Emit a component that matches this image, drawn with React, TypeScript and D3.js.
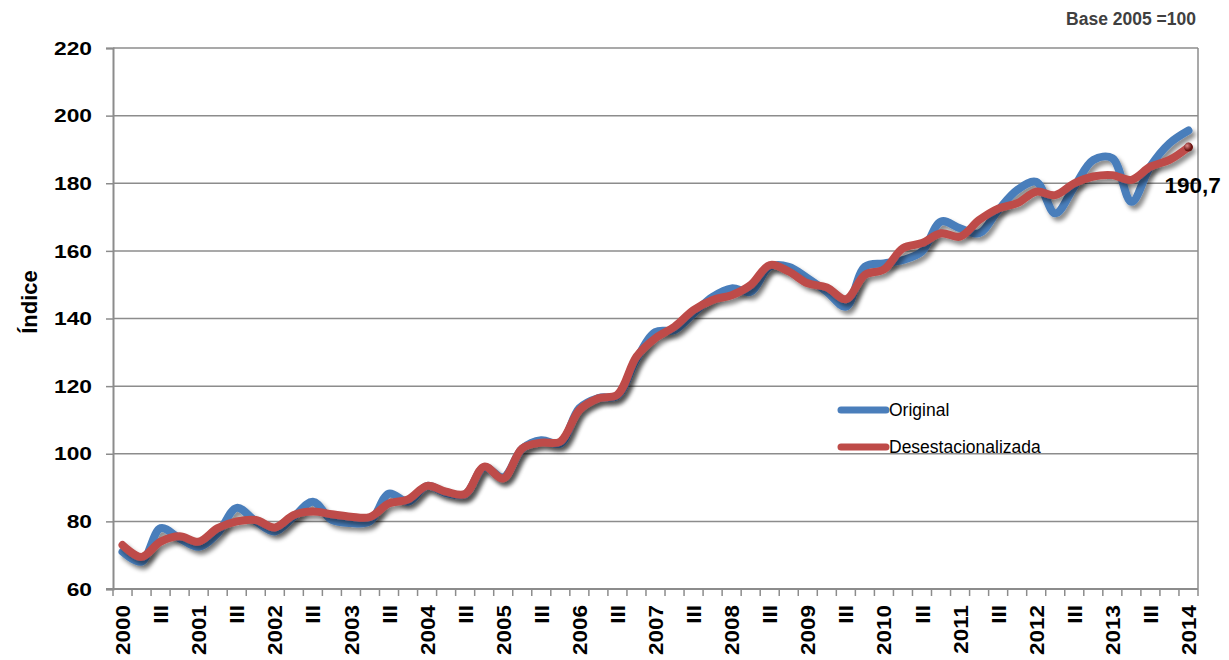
import React, { useEffect, useRef } from 'react';
import * as d3 from 'd3';

const categories = [
    '2000', '', 'III', '', '2001', '', 'III', '', '2002', '', 'III', '', '2003', '', 'III', '',
    '2004', '', 'III', '', '2005', '', 'III', '', '2006', '', 'III', '', '2007', '', 'III', '',
    '2008', '', 'III', '', '2009', '', 'III', '', '2010', '', 'III', '', '2011', '', 'III', '',
    '2012', '', 'III', '', '2013', '', 'III', '', '2014',
];

const original = [
    71, 68.1, 78, 75, 72.5, 76.5, 84, 80, 77, 81.4, 85.8, 80.4, 79.5, 80, 88.2, 85.8,
    90.5, 88.4, 88, 96, 93, 101.5, 104, 103, 113.5, 116.5, 117.2, 128, 136, 136.6, 141.5, 146.4,
    148.9, 147.9, 155.3, 155.3, 151.9, 147.9, 143.5, 155.3, 156.3, 157.3, 159.8, 168.7, 166.7, 165.2, 172, 178,
    180.4, 171.1, 179, 186.9, 187.4, 174.5, 185, 191.8, 195.6,
];

const desestacionalizada = [
    73, 69.5, 74, 75.6, 74, 78, 80, 80.4, 78.2, 81.9, 82.9, 82.1, 81.4, 81.3, 85.3, 86.5,
    90.5, 88.8, 88.1, 96.2, 92.7, 101.6, 103.3, 103.6, 112.9, 116.4, 117.5, 128.7, 134.2, 137.6, 142.5, 145.5,
    146.9, 149.9, 155.8, 153.9, 150.4, 149.2, 145.7, 152.9, 154.5, 160.8, 162.3, 165.2, 164.2, 169.1, 172.5, 174.1,
    177.5, 176.5, 180, 182, 182.4, 181, 184.9, 186.9, 190.7,
];

const yTicks = [60, 80, 100, 120, 140, 160, 180, 200, 220];

const seriesNames = ['Original', 'Desestacionalizada'];
const seriesColors = ['#4a7ebb', '#be4b48'];

const FONT = '"Liberation Sans", Arial, sans-serif';

const App: React.FC = () => {
    const svgRef = useRef<SVGSVGElement>(null);

    useEffect(() => {
        if (!svgRef.current) return;
        const svg = d3.select(svgRef.current);
        svg.selectAll('*').remove();

        const left = 113, right = 1198, top = 48, bottom = 589;

        const x = d3.scaleBand<number>().domain(d3.range(categories.length)).range([left, right]).padding(0);
        const cx = (i: number) => (x(i) as number) + x.bandwidth() / 2;
        const y = d3.scaleLinear().domain([60, 220]).range([bottom, top]);

        // shadow filter
        const defs = svg.append('defs');
        const f = defs.append('filter').attr('id', 'shadow')
            .attr('x', '-5%').attr('y', '-5%').attr('width', '110%').attr('height', '120%');
        f.append('feDropShadow')
            .attr('dx', 3).attr('dy', 4).attr('stdDeviation', 2.2)
            .attr('flood-color', '#000').attr('flood-opacity', 0.45);
        const grad = defs.append('radialGradient').attr('id', 'ball').attr('cx', '35%').attr('cy', '35%');
        grad.append('stop').attr('offset', '0%').attr('stop-color', '#e08a88');
        grad.append('stop').attr('offset', '100%').attr('stop-color', '#6b1512');

        // gridlines
        svg.append('g')
            .selectAll('line')
            .data(yTicks.filter(t => t > 60))
            .enter()
            .append('line')
            .attr('x1', left).attr('x2', right)
            .attr('y1', d => y(d)).attr('y2', d => y(d))
            .attr('stroke', '#8c8c8c').attr('stroke-width', 1.5);

        // right border
        svg.append('line')
            .attr('x1', right).attr('x2', right).attr('y1', top).attr('y2', bottom)
            .attr('stroke', '#8c8c8c').attr('stroke-width', 1.5);

        // y axis (labels drawn separately, they are a bit wide in the original)
        const yAxis = d3.axisLeft(y).tickValues(yTicks).tickSize(7).tickFormat(() => '');
        const gy = svg.append('g').attr('transform', `translate(${left},0)`).call(yAxis);
        gy.select('.domain').attr('stroke', '#8c8c8c').attr('stroke-width', 2);
        gy.selectAll('line').attr('stroke', '#8c8c8c').attr('stroke-width', 1.5);

        svg.append('g')
            .selectAll('text')
            .data(yTicks)
            .enter()
            .append('text')
            .attr('transform', d => `translate(92,${y(d)}) scale(1.2,1)`)
            .attr('dy', '0.35em')
            .attr('text-anchor', 'end')
            .style('font-family', FONT)
            .style('font-size', '19px')
            .style('font-weight', 'bold')
            .text(d => d);

        // x axis line + ticks
        const gx = svg.append('g');
        gx.append('line')
            .attr('x1', left - 7).attr('x2', right)
            .attr('y1', bottom).attr('y2', bottom)
            .attr('stroke', '#8c8c8c').attr('stroke-width', 2);
        gx.selectAll('line.tick')
            .data(d3.range(categories.length + 1))
            .enter()
            .append('line')
            .attr('class', 'tick')
            .attr('x1', i => (i < categories.length ? (x(i) as number) : right))
            .attr('x2', i => (i < categories.length ? (x(i) as number) : right))
            .attr('y1', bottom).attr('y2', bottom + 7)
            .attr('stroke', '#8c8c8c').attr('stroke-width', 1.5);
        gx.selectAll('text')
            .data(categories.map((c, i) => ({ c, i })).filter(d => d.c !== ''))
            .enter()
            .append('text')
            .attr('transform', d => `translate(${cx(d.i)},${bottom + 16}) rotate(-90) scale(1.07,1)`)
            .attr('dy', '0.36em')
            .attr('text-anchor', 'end')
            .style('font-family', FONT)
            .style('font-size', '21px')
            .style('font-weight', 'bold')
            .text(d => d.c);

        // y title
        svg.append('text')
            .attr('transform', `translate(37,302) rotate(-90)`)
            .attr('text-anchor', 'middle')
            .style('font-family', FONT)
            .style('font-size', '22px')
            .style('font-weight', 'bold')
            .text('Índice');

        // lines
        const line = d3.line<number>()
            .x((_, i) => cx(i))
            .y(d => y(d))
            .curve(d3.curveCatmullRom.alpha(0.5));

        [original, desestacionalizada].forEach((s, k) => {
            svg.append('path')
                .datum(s)
                .attr('d', line)
                .attr('fill', 'none')
                .attr('stroke', seriesColors[k])
                .attr('stroke-width', 8)
                .attr('stroke-linecap', 'round')
                .attr('stroke-linejoin', 'round')
                .attr('filter', 'url(#shadow)');
        });

        // end marker + label
        const last = desestacionalizada.length - 1;
        svg.append('circle')
            .attr('cx', cx(last)).attr('cy', y(desestacionalizada[last]))
            .attr('r', 4.5)
            .attr('fill', 'url(#ball)');
        svg.append('text')
            .attr('x', cx(last) - 24)
            .attr('y', y(desestacionalizada[last]) + 46)
            .style('font-family', FONT)
            .style('font-size', '22.5px')
            .style('font-weight', 'bold')
            .text(d3.format('.1f')(desestacionalizada[last]).replace('.', ','));

        // legend
        const lg = svg.append('g').attr('transform', 'translate(838,410)');
        seriesNames.forEach((name, k) => {
            const row = lg.append('g').attr('transform', `translate(0,${k * 37})`);
            row.append('line')
                .attr('x1', 3).attr('x2', 48).attr('y1', 0).attr('y2', 0)
                .attr('stroke', seriesColors[k])
                .attr('stroke-width', 7)
                .attr('stroke-linecap', 'round');
            row.append('text')
                .attr('x', 51).attr('y', 0).attr('dy', '0.35em')
                .style('font-family', FONT)
                .style('font-size', '17.5px')
                .text(name);
        });

        // base note
        svg.append('text')
            .attr('x', 1196).attr('y', 25)
            .attr('text-anchor', 'end')
            .attr('fill', '#404040')
            .style('font-family', FONT)
            .style('font-size', '17.5px')
            .style('font-weight', 'bold')
            .text('Base 2005 =100');
    }, []);

    return (
        <svg
            ref={svgRef}
            width={1229}
            height={660}
            viewBox="0 0 1229 660"
            style={{ position: 'absolute', left: 0, top: 0, background: '#fff' }}
        />
    );
};

export default App;
